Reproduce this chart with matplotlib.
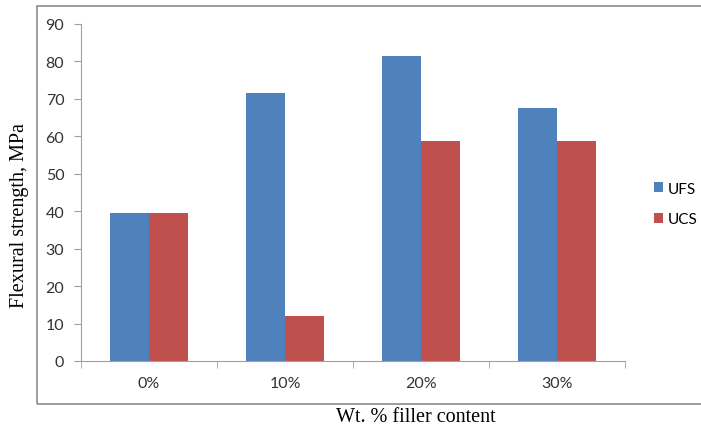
import matplotlib.pyplot as plt
import numpy as np
from matplotlib.patches import Rectangle

# data
categories = ['0%', '10%', '20%', '30%']
ufs = [39.4, 71.5, 81.4, 67.7]
ucs = [39.4, 12.1, 58.8, 58.8]


def main() -> None:
    fig = plt.figure(figsize=(7.01, 4.31), dpi=100)
    ax = fig.add_axes([81 / 701, 1 - 362 / 431, 544 / 701, 337 / 431])

    x = np.arange(len(categories))
    w = 0.287
    ax.bar(x - w / 2, ufs, w, color='#4F81BD', label='UFS')
    ax.bar(x + w / 2, ucs, w, color='#C0504D', label='UCS')

    ax.set_xlim(-0.5, 3.5)
    ax.set_ylim(0, 90)
    ax.set_yticks(range(0, 91, 10))
    ax.set_xticks(x)
    ax.set_xticklabels(categories)
    ax.set_xticks(np.arange(-0.5, 3.6, 1), minor=True)

    for s in ['top', 'right']:
        ax.spines[s].set_visible(False)
    for s in ['left', 'bottom']:
        ax.spines[s].set_color('#a0a0a0')
    ax.tick_params(axis='y', length=5, color='#a0a0a0', labelsize=11.5,
                   labelcolor='#333333', pad=7)
    ax.tick_params(axis='x', which='major', length=0, labelsize=11.5,
                   labelcolor='#333333', pad=11)
    ax.tick_params(axis='x', which='minor', length=5, color='#a0a0a0')
    for lbl in ax.get_xticklabels() + ax.get_yticklabels():
        lbl.set_family('Lato')

    fig.text(20 / 701, 1 - 216 / 431, 'Flexural strength, MPa', rotation=90,
             ha='center', va='center', family='Liberation Serif', fontsize=14.5)
    fig.text(416 / 701, 1 - 418 / 431, 'Wt. % filler content',
             ha='center', va='center', family='Liberation Serif', fontsize=14.5)

    fig.legend(loc='center left', bbox_to_anchor=(640 / 701, 1 - 205 / 431),
               frameon=False, handlelength=0.6, handleheight=0.6,
               handletextpad=0.3, labelspacing=1.1,
               prop={'family': 'Lato', 'size': 11})

    fig.patches.append(Rectangle((37 / 701, 1 - 405 / 431), 0.99, 398 / 431,
                                 transform=fig.transFigure, fill=False,
                                 edgecolor='#8c8c8c', lw=1.2))

    plt.savefig('out.png', dpi=100)


if __name__ == "__main__":
    main()
